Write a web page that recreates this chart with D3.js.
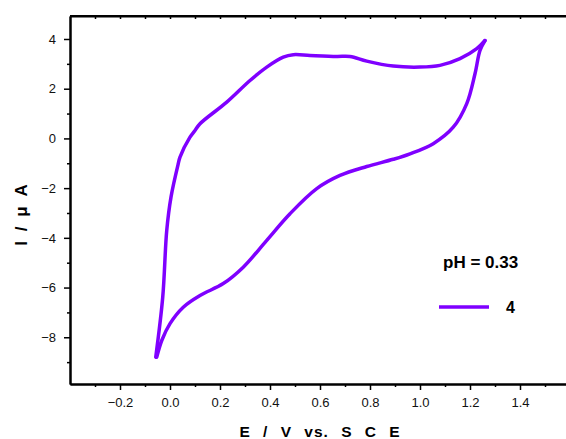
<!doctype html>
<meta charset='utf-8'>
<style>
  body { margin: 0; background: #fff; }
  text { font-family: 'Liberation Sans', Arial, sans-serif; }
</style>
<body>
<script src='https://cdn.jsdelivr.net/npm/d3@7/dist/d3.min.js'></script>
<script>

// anodic sweep (upper branch), from the switching point at about -0.06 V
var fwdE = [-0.057, -0.029, -0.013, 0.004, 0.033, 0.04, 0.08, 0.10, 0.12, 0.227, 0.32, 0.387, 0.453, 0.493, 0.56, 0.667, 0.72, 0.787, 0.893, 1.0, 1.08, 1.16, 1.227, 1.26];
var fwdI = [-8.80, -6.38, -3.70, -2.36, -1.02, -0.75, 0.05, 0.32, 0.59, 1.46, 2.33, 2.87, 3.27, 3.37, 3.34, 3.30, 3.30, 3.11, 2.91, 2.87, 2.94, 3.21, 3.61, 3.94];
// cathodic sweep (lower branch), back from 1.26 V
var revE = [1.26, 1.24, 1.22, 1.187, 1.133, 1.053, 0.96, 0.893, 0.787, 0.68, 0.587, 0.48, 0.387, 0.293, 0.213, 0.12, 0.053, 0.0, -0.033, -0.053];
var revI = [3.94, 3.54, 2.60, 1.40, 0.45, -0.21, -0.62, -0.84, -1.13, -1.49, -2.02, -3.03, -4.10, -5.18, -5.84, -6.32, -6.79, -7.45, -8.13, -8.80];

var xTicks = [-0.2, 0.0, 0.2, 0.4, 0.6, 0.8, 1.0, 1.2, 1.4];
var yTicks = [-8, -6, -4, -2, 0, 2, 4];
var legendTitle = 'pH = 0.33';
var seriesName = '4';

var width = 566, height = 439;
var margin = {top: 16, right: -4, bottom: 55, left: 70};
var color = '#7f00ff';

var svg = d3.select('body').append('svg')
    .attr('width', width)
    .attr('height', height);

var x = d3.scaleLinear().domain([-0.4, 1.6]).range([margin.left, width - margin.right]);
var y = d3.scaleLinear().domain([-9.88, 4.925]).range([height - margin.bottom, margin.top]);

var fmt = d3.format('.1f');

// bottom axis
svg.append('g')
    .attr('transform', 'translate(0,' + (height - margin.bottom) + ')')
    .call(d3.axisBottom(x).tickValues(xTicks).tickFormat(fmt).tickSize(6).tickPadding(8).tickSizeOuter(0));
svg.append('g')
    .attr('transform', 'translate(0,' + (height - margin.bottom) + ')')
    .call(d3.axisBottom(x).tickValues(d3.range(-0.3, 1.6, 0.2)).tickFormat('').tickSize(3).tickSizeOuter(0));

// top axis, ticks only
svg.append('g')
    .attr('transform', 'translate(0,' + margin.top + ')')
    .call(d3.axisBottom(x).tickValues(d3.range(-0.3, 1.6, 0.1)).tickFormat('').tickSize(3).tickSizeOuter(0));
svg.append('line')
    .attr('x1', x(-0.4)).attr('x2', x(1.6))
    .attr('y1', margin.top).attr('y2', margin.top)
    .attr('stroke', '#000').attr('stroke-width', 2);

// left axis
svg.append('g')
    .attr('transform', 'translate(' + margin.left + ',0)')
    .call(d3.axisLeft(y).tickValues(yTicks).tickSize(6).tickPadding(8).tickSizeOuter(0));
svg.append('g')
    .attr('transform', 'translate(' + margin.left + ',0)')
    .call(d3.axisLeft(y).tickValues([-9, -7, -5, -3, -1, 1, 3]).tickFormat('').tickSize(3).tickSizeOuter(0));

svg.selectAll('.domain').attr('stroke-width', 2);
svg.selectAll('.tick line').attr('stroke-width', 1.5);
svg.selectAll('.tick text').style('font-size', '13px').attr('fill', '#111');

// axis titles
svg.append('text')
    .attr('x', 320).attr('y', 437)
    .attr('text-anchor', 'middle')
    .style('font-size', '15.5px').style('font-weight', 'bold')
    .style('letter-spacing', '1px').style('word-spacing', '7px')
    .text('E / V vs. S C E');

svg.append('text')
    .attr('transform', 'translate(27,215) rotate(-90)')
    .attr('text-anchor', 'middle')
    .style('font-size', '17px').style('font-weight', 'bold')
    .style('word-spacing', '5px')
    .text('I / μ A');

// the voltammogram
var line = d3.line()
    .x(function(d) { return x(d[0]); })
    .y(function(d) { return y(d[1]); })
    .curve(d3.curveCatmullRom.alpha(0.5));

var fwd = fwdE.map(function(e, i) { return [e, fwdI[i]]; });
var rev = revE.map(function(e, i) { return [e, revI[i]]; });

svg.append('path')
    .datum(fwd)
    .attr('d', line)
    .attr('fill', 'none').attr('stroke', color)
    .attr('stroke-width', 3.5).attr('stroke-linecap', 'round');
svg.append('path')
    .datum(rev)
    .attr('d', line)
    .attr('fill', 'none').attr('stroke', color)
    .attr('stroke-width', 3.5).attr('stroke-linecap', 'round');

// legend
svg.append('text')
    .attr('x', 443).attr('y', 268)
    .style('font-size', '17px').style('font-weight', 'bold')
    .text(legendTitle);
svg.append('line')
    .attr('x1', 439).attr('x2', 489)
    .attr('y1', 307).attr('y2', 307)
    .attr('stroke', color).attr('stroke-width', 3.5);
svg.append('text')
    .attr('x', 506).attr('y', 313)
    .style('font-size', '16px').style('font-weight', 'bold')
    .text(seriesName);

</script>
